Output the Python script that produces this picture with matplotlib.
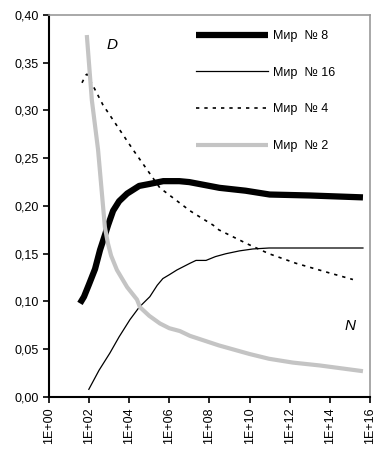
import matplotlib.pyplot as plt
import numpy as np

plt.rcParams['font.family'] = ['Liberation Sans', 'DejaVu Sans']

# log10(N) and D for each world
lx8 = [1.55, 1.75, 2.0, 2.3, 2.55, 2.8, 2.95, 3.2, 3.5, 3.9, 4.5, 5.0, 5.7, 6.5, 7.0, 7.5, 8.5, 9.8, 11.0, 13.0, 15.65]
d8 = [0.098, 0.105, 0.118, 0.134, 0.154, 0.170, 0.180, 0.195, 0.205, 0.213, 0.221, 0.223, 0.226, 0.226, 0.225,
      0.223, 0.219, 0.216, 0.212, 0.211, 0.209]

lx16 = [1.99, 2.5, 3.04, 3.5, 4.04, 4.5, 5.03, 5.4, 5.68, 6.0, 6.38, 7.03, 7.33, 7.83, 8.3, 8.82, 9.5, 10.17, 10.97, 15.65]
d16 = [0.008, 0.028, 0.046, 0.063, 0.081, 0.094, 0.105, 0.117, 0.124, 0.128, 0.133, 0.140, 0.143, 0.143, 0.147,
       0.150, 0.153, 0.155, 0.156, 0.156]

lx4 = [1.65, 1.84, 1.9, 2.69, 4.19, 5.53, 7.03, 7.33, 8.18, 8.47, 9.92, 10.97, 12.31, 13.96, 15.15]
d4 = [0.329, 0.337, 0.338, 0.306, 0.259, 0.219, 0.195, 0.191, 0.180, 0.175, 0.160, 0.150, 0.140, 0.130, 0.123]

lx2 = [1.89, 2.14, 2.45, 2.79, 2.94, 3.1, 3.39, 3.9, 4.39, 4.54, 5.0, 5.53, 6.0, 6.53, 7.03, 8.47, 10.0, 10.97,
       12.16, 13.5, 15.65]
d2 = [0.379, 0.311, 0.259, 0.178, 0.161, 0.148, 0.133, 0.115, 0.102, 0.094, 0.085, 0.077, 0.072, 0.069, 0.064,
      0.054, 0.045, 0.040, 0.036, 0.033, 0.027]

xticks = list(range(0, 17, 2))
xlabels = ['1E+%02d' % k for k in xticks]
yticks = [0.0, 0.05, 0.10, 0.15, 0.20, 0.25, 0.30, 0.35, 0.40]

fig = plt.figure(figsize=(3.76, 4.54), dpi=100)
ax = fig.add_axes([0.130, 0.1256, 0.854, 0.8414])

ax.plot(10.0 ** np.array(lx8), d8, color='black', lw=4.5, label='Мир  № 8', solid_capstyle='butt')
ax.plot(10.0 ** np.array(lx16), d16, color='black', lw=0.9, label='Мир  № 16')
ax.plot(10.0 ** np.array(lx4), d4, color='black', lw=1.2, dashes=(2, 3), label='Мир  № 4')
ax.plot(10.0 ** np.array(lx2), d2, color='#c4c4c4', lw=3, label='Мир  № 2', solid_capstyle='butt')

ax.set_xscale('log')
ax.set_xlim(1, 1e16)
ax.set_ylim(0, 0.40)
ax.set_xticks([10.0 ** k for k in xticks])
ax.set_xticklabels(xlabels, rotation=90, fontsize=9)
ax.xaxis.set_minor_locator(plt.NullLocator())
ax.set_yticks(yticks)
ax.set_yticklabels([('%.2f' % v).replace('.', ',') for v in yticks], fontsize=9)
ax.tick_params(length=4, width=1.2, color='black')

for s in ['left', 'bottom']:
    ax.spines[s].set_color('black')
    ax.spines[s].set_linewidth(1.5)
for s in ['top', 'right']:
    ax.spines[s].set_color('#999999')
    ax.spines[s].set_linewidth(1.2)

ax.text(0.18, 0.912, 'D', transform=ax.transAxes, fontsize=11, style='italic')
ax.text(0.92, 0.175, 'N', transform=ax.transAxes, fontsize=11, style='italic')

ax.legend(loc='upper left', frameon=False, fontsize=9, handlelength=5.8,
          handletextpad=0.4, labelspacing=1.98, borderpad=0, borderaxespad=0,
          bbox_to_anchor=(0.458, 0.961))

fig.savefig('out.png', dpi=100)
